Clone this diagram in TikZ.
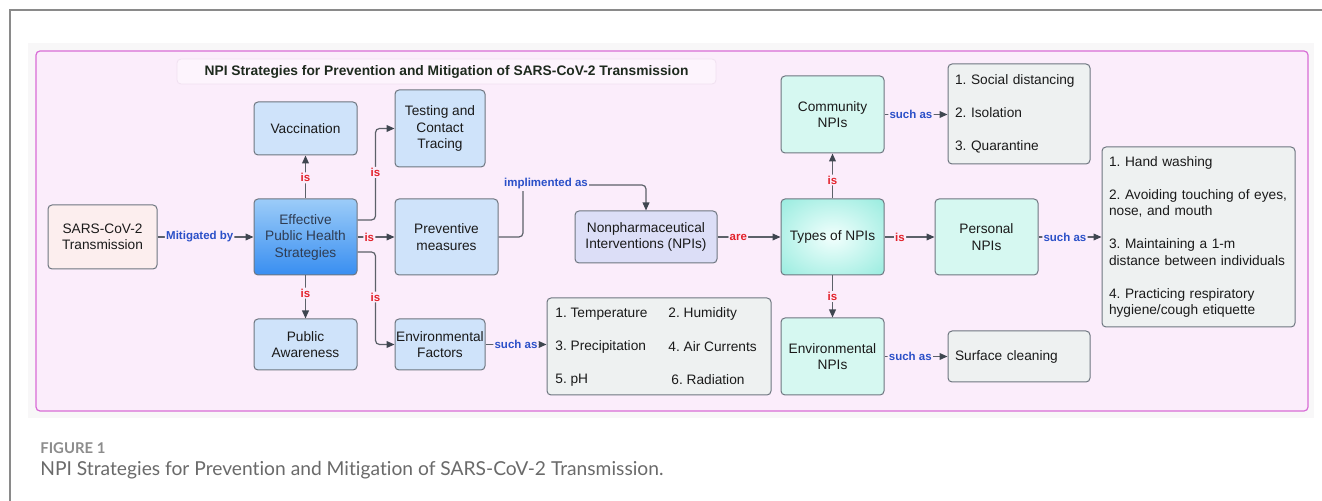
\documentclass[tikz,border=0pt]{standalone}
\usepackage{graphicx}
\usepackage{fontspec}
\setmainfont{Liberation Sans}
\newfontfamily\capfont[Ligatures={NoCommon,NoDiscretionary,NoContextual}]{Lato}
\usetikzlibrary{arrows.meta,calc}
\frenchspacing
\definecolor{pinkbg}{HTML}{FBEDFB}
\definecolor{pinkframe}{HTML}{D86CD6}
\definecolor{bandc}{HTML}{F8F7F8}
\definecolor{outerc}{HTML}{8A8A8A}
\definecolor{bluefill}{HTML}{CFE3FA}
\definecolor{tealfill}{HTML}{D6F8F1}
\definecolor{grayfill}{HTML}{EEF1F1}
\definecolor{sarsfill}{HTML}{FCEEEE}
\definecolor{npifill}{HTML}{DCDEF7}
\definecolor{boxline}{HTML}{6E7680}
\definecolor{connc}{HTML}{5C6169}
\definecolor{tipc}{HTML}{3F4650}
\definecolor{isred}{HTML}{E3222B}
\definecolor{suchblue}{HTML}{2B50C8}
\definecolor{txt}{HTML}{1A1A1A}
\definecolor{efftxt}{HTML}{2F3C52}
\definecolor{titletxt}{HTML}{1E2A1E}
\definecolor{titlefill}{HTML}{FDF4FD}
\definecolor{titleline}{HTML}{F1E1F1}
\definecolor{effTop}{HTML}{9CCCF8}
\definecolor{effBot}{HTML}{388EF1}
\definecolor{tealIn}{HTML}{F2FFFD}
\definecolor{tealOut}{HTML}{74E4D3}
\definecolor{figgray}{HTML}{8C8C8C}
\definecolor{capgray}{HTML}{6A6A6A}
\pgfdeclareradialshading{tealrad}{\pgfpoint{0bp}{0bp}}{color(0bp)=(tealIn); color(10bp)=(tealIn!80!tealOut); color(50bp)=(tealOut); color(100bp)=(tealOut)}
\newcommand\fsmain{\fontsize{6.85pt}{8.25pt}\selectfont}
\newcommand\fslbl{\fontsize{5.75pt}{6.5pt}\selectfont\bfseries}
\newcommand\fstitle{\fontsize{6.9pt}{8.5pt}\selectfont\bfseries}
\begin{document}
\begin{tikzpicture}[x=0.5pt,y=-0.5pt,
  box/.style={draw=boxline, line width=0.5pt, rounded corners=2pt, align=center,
    font=\fsmain, text=txt, inner sep=1pt},
  wh/.style 2 args={minimum width=#1*0.5pt, minimum height=#2*0.5pt},
  bluebox/.style={box, fill=bluefill},
  tealbox/.style={box, fill=tealfill},
  listbox/.style={box, fill=grayfill, align=left, inner xsep=3.5pt},
  itm/.style={anchor=west, inner sep=0pt, font=\fsmain, text=txt},
  conn/.style={draw=connc, line width=0.6pt, rounded corners=2pt,
    -{Triangle[length=4pt,width=3.4pt,color=tipc]}},
  lbl/.style={font=\fslbl, fill=pinkbg, inner sep=0.6pt},
  isl/.style={lbl, text=isred},
  such/.style={lbl, text=suchblue}]
\useasboundingbox (0,0) rectangle (1322,501);
\fill[white] (0,0) rectangle (1322,501);
\draw[outerc, line width=0.75pt] (10,501) -- (10,10) -- (1322,10);
\fill[bandc] (28,43) rectangle (1314,418);
\draw[pinkframe, fill=pinkbg, rounded corners=2pt, line width=0.6pt] (36,51) rectangle (1308,411);
\node[draw=titleline, fill=titlefill, rounded corners=2pt, wh={539}{25}, font=\fstitle, text=titletxt, inner sep=0pt]
  (title) at (446.5,71.5) {NPI Strategies for Prevention and Mitigation of SARS-CoV-2 Transmission};

% nodes
\node[box, fill=sarsfill, wh={109}{64}] (sars) at (102.5,237) {SARS-CoV-2\\Transmission};
\node[box, top color=effTop, bottom color=effBot, text=efftxt, wh={103}{76}] (eff) at (305.5,237) {Effective\\Public Health\\Strategies};
\node[bluebox, wh={103}{53}] (vac) at (305.5,128.5) {Vaccination};
\node[bluebox, wh={90}{77}] (test) at (440,128.5) {Testing and\\Contact\\Tracing};
\node[bluebox, wh={103}{76}] (prev) at (446.5,237) {Preventive\\measures};
\node[bluebox, wh={103}{51}] (pub) at (305.5,344.5) {Public\\Awareness};
\node[bluebox, wh={90}{51}, inner xsep=0pt] (envf) at (440,344.5) {Environmental\\Factors};
\node[box, fill=grayfill, wh={224}{97}] (envlist) at (659,346.5) {};
\node[box, fill=npifill, wh={142}{52}] (npi) at (646,237) {Nonpharmaceutical\\Interventions (NPIs)};
\node[box, shading=tealrad, wh={103}{76}] (types) at (832.5,237) {Types of NPIs};
\node[tealbox, wh={103}{77}] (comm) at (832.5,114.5) {Community\\NPIs};
\node[tealbox, wh={103}{76}] (pers) at (986.5,237) {Personal\\NPIs};
\node[tealbox, wh={103}{77}] (envn) at (832.5,356.5) {Environmental\\NPIs};
\node[listbox, wh={142}{100}, text width=64pt] (commlist) at (1019,114)
  {1. Social distancing\\[8.25pt]2. Isolation\\[8.25pt]3. Quarantine};
\node[listbox, wh={193}{180}, text width=89.5pt] (perslist) at (1198.5,237)
  {1. Hand washing\\[8.25pt]2. Avoiding touching of eyes,\\nose, and mouth\\[8.25pt]3. Maintaining a 1-m\\distance between individuals\\[8.25pt]4. Practicing respiratory\\hygiene/cough etiquette};
\node[listbox, wh={142}{51}, text width=64pt] (surf) at (1019,356.5) {Surface cleaning};

% environmental factor items
\node[itm] (t1) at (555,314) {1. Temperature};
\node[itm] (t2) at (668,314) {2. Humidity};
\node[itm] (t3) at (555,347) {3. Precipitation};
\node[itm] (t4) at (668,347) {4. Air Currents};
\node[itm] (t5) at (555,380) {5. pH};
\node[itm] (t6) at (671,380) {6. Radiation};

% connectors
\draw[conn] (sars) -- node[such,pos=0.44]{Mitigated by} (eff);
\draw[conn] (eff) -- node[isl,pos=0.48]{is} (vac);
\draw[conn] ([yshift=8.5pt]eff.east) -- ++(9pt,0) |- node[isl,pos=0.26]{is} (test.west);
\draw[conn] (eff) -- node[isl,pos=0.32]{is} (prev);
\draw[conn] ([yshift=-7.5pt]eff.east) -- ++(9pt,0) |- node[isl,pos=0.243]{is} (envf.west);
\draw[conn] (eff) -- node[isl,pos=0.41]{is} (pub);
\draw[conn] (prev.east) -| (523,185) -| (npi.north);
\node[such] (impl) at (546,184) {implimented as};
\draw[conn] (npi) -- node[isl,pos=0.33]{are} (types);
\draw[conn] (types) -- node[isl,pos=0.41]{is} (comm);
\draw[conn] (types) -- node[isl,pos=0.31]{is} (pers);
\draw[conn] (types) -- node[isl,pos=0.5]{is} (envn);
\draw[conn] (comm.east) -- node[such,pos=0.42]{such as} (comm.east -| commlist.west);
\draw[conn] (pers) -- node[such,pos=0.42]{such as} (perslist);
\draw[conn] (envn.east) -- node[such,pos=0.41]{such as} (envn.east -| surf.west);
\draw[conn] (envf.east) -- node[such,pos=0.5]{such as} (envf.east -| envlist.west);

% caption
\node[anchor=west, inner sep=0pt, text=figgray] (fig) at (40,448) {\resizebox{32.5pt}{!}{\capfont\bfseries FIGURE 1}};
\node[anchor=west, inner sep=0pt, text=capgray] (cap) at (40,470) {\resizebox{311.5pt}{!}{\capfont NPI Strategies for Prevention and Mitigation of SARS-CoV-2 Transmission.}};
\end{tikzpicture}
\end{document}
